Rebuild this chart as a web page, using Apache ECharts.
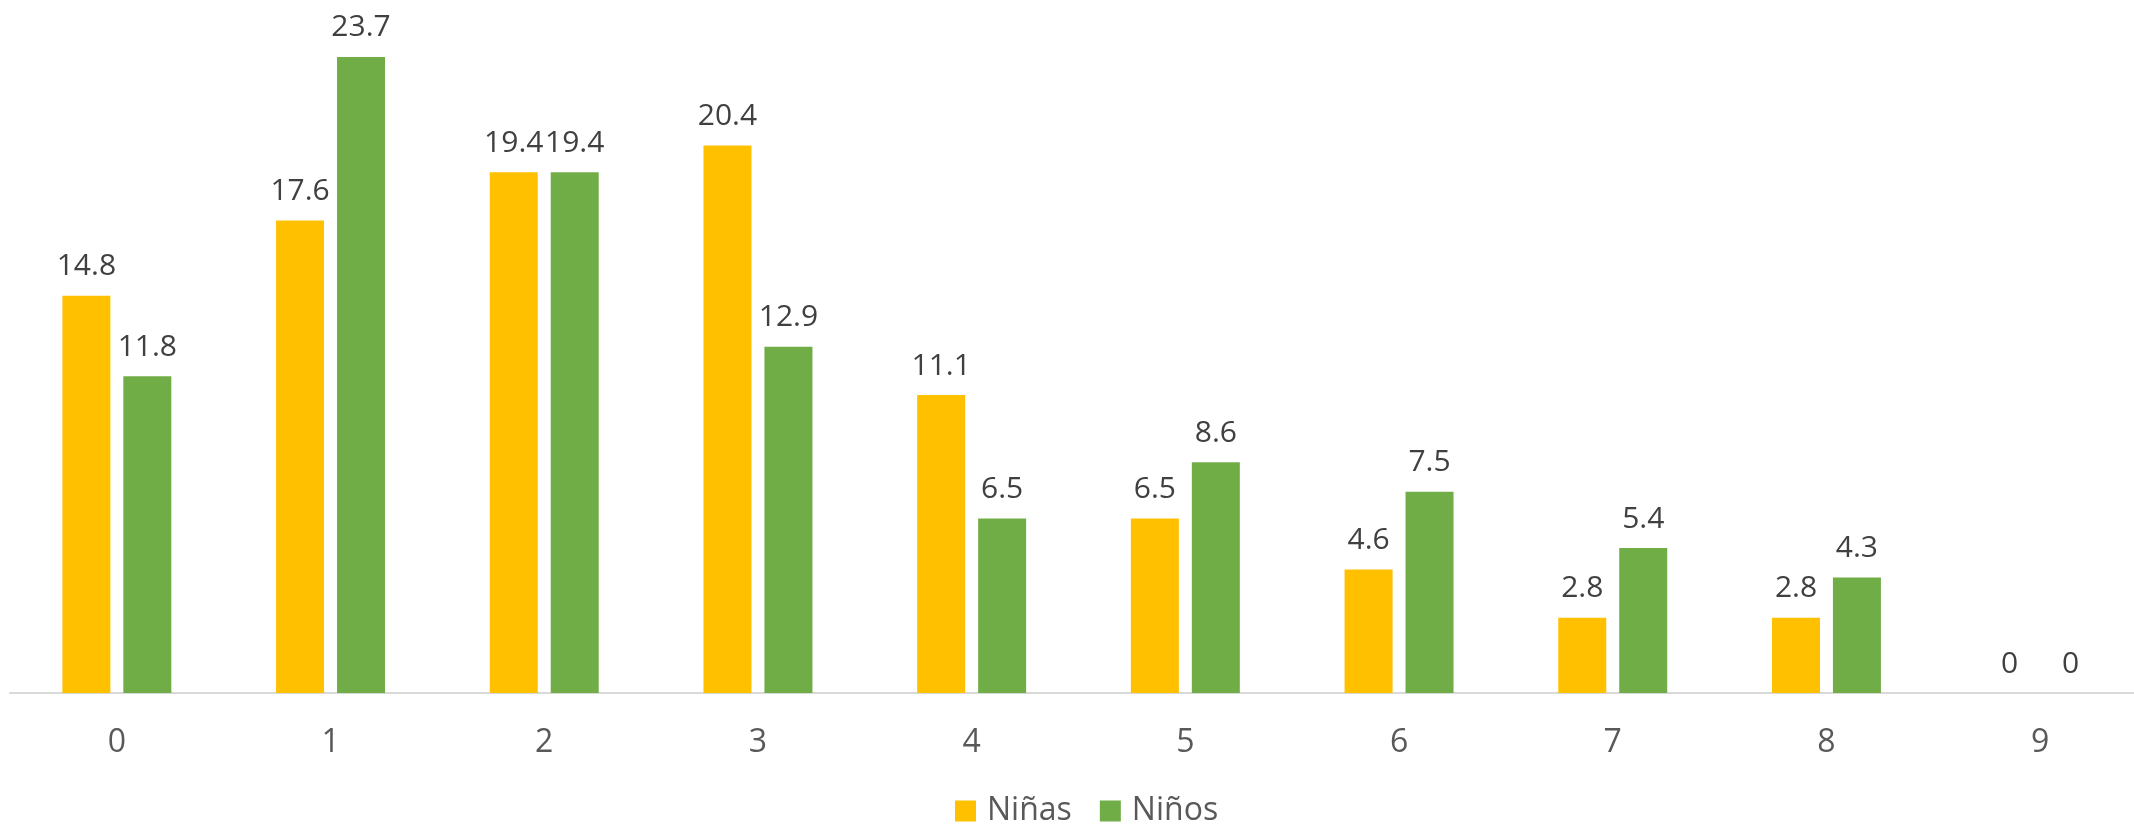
<!DOCTYPE html>
<html><head><meta charset="utf-8">
<script src="https://cdn.jsdelivr.net/npm/echarts@6/dist/echarts.min.js"></script>
<style>html,body{margin:0;padding:0;background:#fff}#c{width:2134px;height:825px}</style>
</head><body><div id="c"></div>
<script>
const categories = ['0','1','2','3','4','5','6','7','8','9'];
const ninas = [14.8, 17.6, 19.4, 20.4, 11.1, 6.5, 4.6, 2.8, 2.8, 0];
const ninos = [11.8, 23.7, 19.4, 12.9, 6.5, 8.6, 7.5, 5.4, 4.3, 0];
const seriesNames = ['Niñas', 'Niños'];
const FONT = '"Open Sans", sans-serif';
const chart = echarts.init(document.getElementById('c'));
const lbl = {show: true, position: 'top', distance: 14, color: '#404040', fontSize: 30, fontFamily: FONT};
chart.setOption({
  animation: false,
  grid: {left: 10, width: 2137, top: 22, height: 671, containLabel: false, outerBoundsMode: 'none'},
  legend: {top: 795, left: 955, padding: 0, icon: 'rect', itemWidth: 21, itemHeight: 21, itemGap: 28,
    textStyle: {fontSize: 32, color: '#595959', fontFamily: FONT, padding: [0, 0, 0, 6]},
    data: seriesNames},
  xAxis: {type: 'category', data: categories,
    axisLine: {lineStyle: {color: '#D9D9D9', width: 2}},
    axisTick: {show: false},
    axisLabel: {color: '#595959', fontSize: 32, fontFamily: FONT, margin: 34}},
  yAxis: {type: 'value', min: 0, max: 25, show: false, splitLine: {show: false}},
  series: [
    {name: seriesNames[0], type: 'bar', data: ninas, barWidth: 48, barGap: '27%', itemStyle: {color: '#FFC000'}, label: lbl},
    {name: seriesNames[1], type: 'bar', data: ninos, barWidth: 48, barGap: '27%', itemStyle: {color: '#70AD47'}, label: lbl}
  ]
});
</script></body></html>
